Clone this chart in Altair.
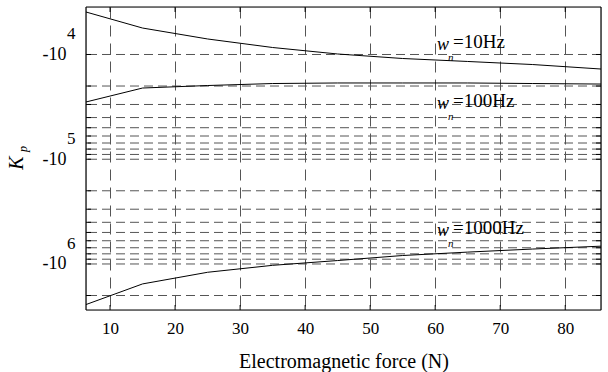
import altair as alt
import pandas as pd

# ---- data ----
force = [6.3, 15, 25, 35, 45, 55, 65, 75, 85.5]
kp_10 = [-3930, -5590, -7110, -8575, -9890, -10920, -11660, -12470, -13760]
kp_100 = [-28400, -20900, -19780, -18930, -18700, -18700, -18700, -18930, -19150]
kp_1000 = [-2.44e6, -1.55e6, -1.2e6, -1.03e6, -9.27e5, -8.3e5, -7.7e5, -7.2e5, -6.76e5]

x_ticks = [10, 20, 30, 40, 50, 60, 70, 80]
y_major = [-1e4, -1e5, -1e6]
y_exp = ["4", "5", "6"]
y_grid = [-1e4, -2e4, -3e4, -4e4, -5e4, -6e4, -7e4, -8e4, -9e4,
          -1e5, -2e5, -3e5, -4e5, -5e5, -6e5, -7e5, -8e5, -9e5,
          -1e6, -2e6]

ann_x = [60.27, 60.27, 60.27]
ann_y = [-7600, -27800, -4.57e5]
ann_text = ["=10Hz", "=100Hz", "=1000Hz"]

FONT = "Liberation Serif"
W, H = 515, 303

lines_df = pd.DataFrame({
    "force": force * 3,
    "kp": kp_10 + kp_100 + kp_1000,
    "series": ["10Hz"] * len(force) + ["100Hz"] * len(force) + ["1000Hz"] * len(force),
})
grid_df = pd.DataFrame({"kp": y_grid})
major_df = pd.DataFrame({"kp": y_major, "exp": y_exp})
xt_df = pd.DataFrame({"force": x_ticks})
ann_df = pd.DataFrame({"force": ann_x, "kp": ann_y, "text": ann_text})

xscale = alt.Scale(domain=[6.3, 85.5], nice=False, zero=False)
yscale = alt.Scale(type="log", domain=[-2.75e6, -3.52e3], nice=False)

x_enc = alt.X("force:Q", scale=xscale,
              axis=alt.Axis(values=x_ticks, grid=True, gridDash=[11, 7], gridColor="#555555",
                            ticks=False, domain=False, labelFont=FONT,
                            labelFontSize=17, labelColor="black", labelPadding=10,
                            title="Electromagnetic force (N)", titleFont=FONT,
                            titleFontSize=20, titleFontWeight="normal", titleColor="black",
                            titlePadding=15))
y_enc = alt.Y("kp:Q", scale=yscale,
              axis=alt.Axis(values=y_major, labelExpr="'-10'", grid=False, ticks=False,
                            domain=False, labelFont=FONT, labelFontSize=18,
                            labelColor="black", labelPadding=20, title=None))

hgrid = alt.Chart(grid_df).mark_rule(color="#555555", strokeDash=[9, 5]).encode(
    y=alt.Y("kp:Q", scale=yscale)
)

lines = alt.Chart(lines_df).mark_line(color="black", strokeWidth=1).encode(
    x=x_enc, y=y_enc, detail="series:N"
)

exp_txt = alt.Chart(major_df).mark_text(font=FONT, fontSize=17, align="left",
                                        baseline="middle", dy=-20, color="black").encode(
    x=alt.value(-19), y=alt.Y("kp:Q", scale=yscale), text="exp:N"
)

ann_w = alt.Chart(ann_df).mark_text(font=FONT, fontSize=18, fontStyle="italic", align="left",
                                    baseline="middle", dy=3, color="black").encode(
    x=alt.X("force:Q", scale=xscale), y=alt.Y("kp:Q", scale=yscale), text=alt.value("w")
)
ann_n = alt.Chart(ann_df).mark_text(font=FONT, fontSize=11, fontStyle="italic", align="left",
                                    baseline="middle", dx=11, dy=16, color="black").encode(
    x=alt.X("force:Q", scale=xscale), y=alt.Y("kp:Q", scale=yscale), text=alt.value("n")
)
ann_t = alt.Chart(ann_df).mark_text(font=FONT, fontSize=19, align="left",
                                    baseline="middle", dx=16, color="black").encode(
    x=alt.X("force:Q", scale=xscale), y=alt.Y("kp:Q", scale=yscale), text="text:N"
)

one = pd.DataFrame({"a": [0]})
k_txt = alt.Chart(one).mark_text(font=FONT, fontSize=20, fontStyle="italic", angle=270,
                                 align="center", baseline="middle", color="black").encode(
    x=alt.value(-69), y=alt.value(156), text=alt.value("K")
)
p_txt = alt.Chart(one).mark_text(font=FONT, fontSize=12, fontStyle="italic", angle=270,
                                 align="center", baseline="middle", color="black").encode(
    x=alt.value(-63), y=alt.value(142), text=alt.value("p")
)

tick_b = alt.Chart(xt_df).mark_rule(color="black").encode(
    x=alt.X("force:Q", scale=xscale), y=alt.value(H - 5), y2=alt.value(H)
)
tick_t = alt.Chart(xt_df).mark_rule(color="black").encode(
    x=alt.X("force:Q", scale=xscale), y=alt.value(0), y2=alt.value(5)
)
tick_l = alt.Chart(grid_df).mark_rule(color="black").encode(
    y=alt.Y("kp:Q", scale=yscale), x=alt.value(0), x2=alt.value(5)
)
tick_r = alt.Chart(grid_df).mark_rule(color="black").encode(
    y=alt.Y("kp:Q", scale=yscale), x=alt.value(W - 5), x2=alt.value(W)
)

# plot frame
frame_h = alt.Chart(pd.DataFrame({"p": [0, H]})).mark_rule(color="black", strokeWidth=1.2).encode(
    y=alt.Y("p:Q", scale=None), x=alt.value(0), x2=alt.value(W)
)
frame_v = alt.Chart(pd.DataFrame({"p": [0, W]})).mark_rule(color="black", strokeWidth=1.2).encode(
    x=alt.X("p:Q", scale=None), y=alt.value(0), y2=alt.value(H)
)

chart = alt.layer(
    hgrid, lines, tick_b, tick_t, tick_l, tick_r, frame_h, frame_v,
    exp_txt, ann_w, ann_n, ann_t, k_txt, p_txt
).properties(
    width=W, height=H,
    autosize=alt.AutoSizeParams(type="none"),
    padding={"left": 86, "top": 7, "right": 7, "bottom": 62},
)

chart.save("out.html", embed_options={"renderer": "svg", "actions": False})
